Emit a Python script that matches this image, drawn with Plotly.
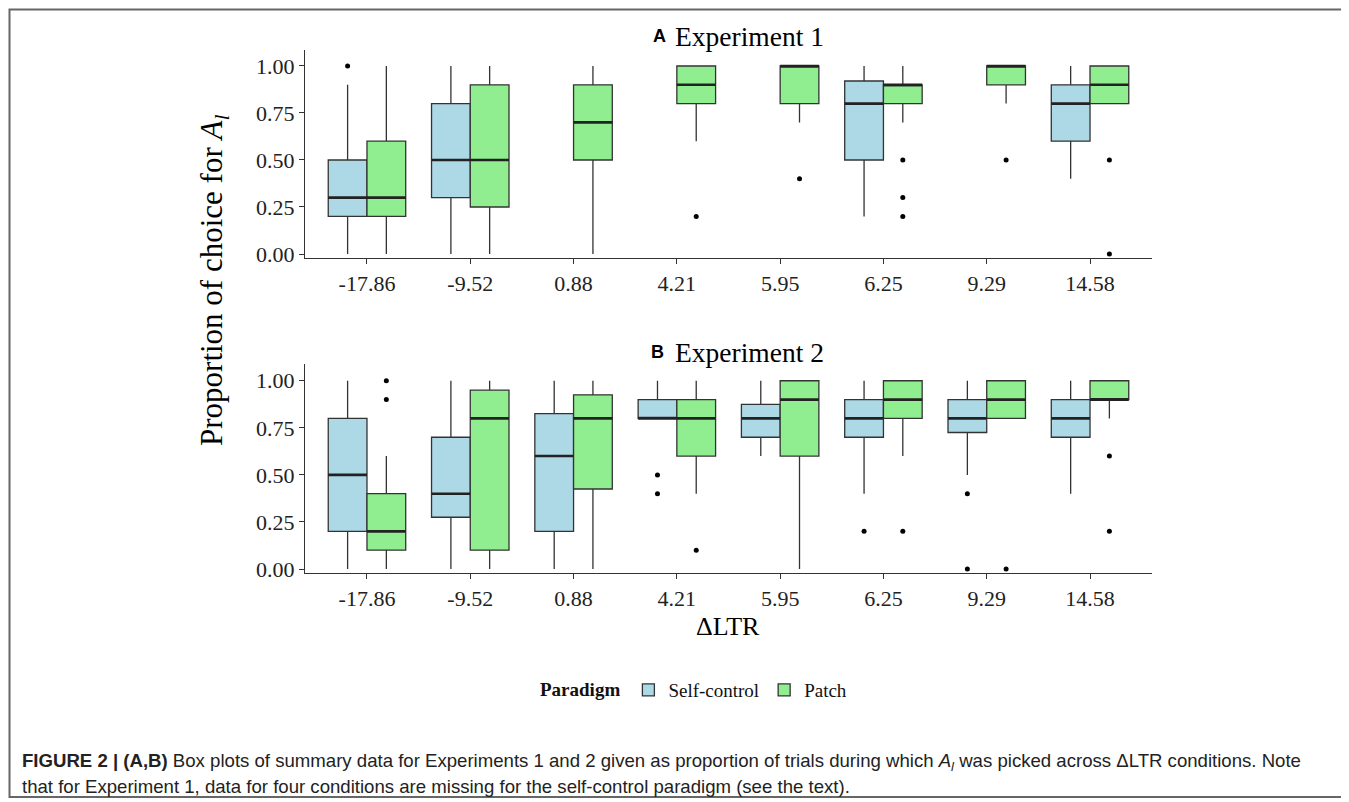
import plotly.graph_objects as go

categories = ["-17.86", "-9.52", "0.88", "4.21", "5.95", "6.25", "9.29", "14.58"]

# Experiment 1 - Self-control (None = missing condition)
e1_sc_q1 = [0.2, 0.3, None, None, None, 0.5, None, 0.6]
e1_sc_med = [0.3, 0.5, None, None, None, 0.8, None, 0.8]
e1_sc_q3 = [0.5, 0.8, None, None, None, 0.92, None, 0.9]
e1_sc_lo = [0.0, 0.0, None, None, None, 0.2, None, 0.4]
e1_sc_hi = [0.9, 1.0, None, None, None, 1.0, None, 1.0]
e1_sc_out = [[1.0], [], [], [], [], [], [], []]

# Experiment 1 - Patch
e1_pa_q1 = [0.2, 0.25, 0.5, 0.8, 0.8, 0.8, 0.9, 0.8]
e1_pa_med = [0.3, 0.5, 0.7, 0.9, 1.0, 0.9, 1.0, 0.9]
e1_pa_q3 = [0.6, 0.9, 0.9, 1.0, 1.0, 0.9, 1.0, 1.0]
e1_pa_lo = [0.0, 0.0, 0.0, 0.6, 0.7, 0.7, 0.8, 0.8]
e1_pa_hi = [1.0, 1.0, 1.0, 1.0, 1.0, 1.0, 1.0, 1.0]
e1_pa_out = [[], [], [], [0.2], [0.4], [0.5, 0.3, 0.2], [0.5], [0.5, 0.0]]

# Experiment 2 - Self-control
e2_sc_q1 = [0.2, 0.275, 0.2, 0.8, 0.7, 0.7, 0.725, 0.7]
e2_sc_med = [0.5, 0.4, 0.6, 0.8, 0.8, 0.8, 0.8, 0.8]
e2_sc_q3 = [0.8, 0.7, 0.825, 0.9, 0.875, 0.9, 0.9, 0.9]
e2_sc_lo = [0.0, 0.0, 0.0, 0.8, 0.6, 0.4, 0.5, 0.4]
e2_sc_hi = [1.0, 1.0, 1.0, 1.0, 1.0, 1.0, 1.0, 1.0]
e2_sc_out = [[], [], [], [0.5, 0.4], [], [0.2], [0.4, 0.0], []]

# Experiment 2 - Patch
e2_pa_q1 = [0.1, 0.1, 0.425, 0.6, 0.6, 0.8, 0.8, 0.9]
e2_pa_med = [0.2, 0.8, 0.8, 0.8, 0.9, 0.9, 0.9, 0.9]
e2_pa_q3 = [0.4, 0.95, 0.925, 0.9, 1.0, 1.0, 1.0, 1.0]
e2_pa_lo = [0.0, 0.0, 0.0, 0.4, 0.0, 0.6, 0.8, 0.8]
e2_pa_hi = [0.6, 1.0, 1.0, 1.0, 1.0, 1.0, 1.0, 1.0]
e2_pa_out = [[1.0, 0.9], [], [], [0.1], [], [0.2], [0.0], [0.6, 0.2]]

y_ticks = [0.0, 0.25, 0.5, 0.75, 1.0]
y_ticktext = ["0.00", "0.25", "0.50", "0.75", "1.00"]

paradigms = ["Self-control", "Patch"]
fills = {"Self-control": "#ADD8E6", "Patch": "#90EE90"}
dodge = {"Self-control": -0.1875, "Patch": 0.1875}
BOX_W = 0.375
LINE = "#333333"
SERIF = "Liberation Serif, Times New Roman, serif"
SANS = "Liberation Sans, Arial, sans-serif"

# page has an 8px body margin; work in page pixels and shift
OFF = 8
W, H = 1349 - OFF, 802 - OFF
PL, PR, PT, PB = 305, 1152, 50, 573   # plot area in page pixels
ML, MR, MT, MB = PL - OFF, W - (PR - OFF), PT - OFF, H - (PB - OFF)
PW, PH = PR - PL, PB - PT


def px(x):
    return (x - PL) / PW


def py(y):
    return (PB - y) / PH


fig = go.Figure()

experiments = [
    ("1", {"Self-control": (e1_sc_q1, e1_sc_med, e1_sc_q3, e1_sc_lo, e1_sc_hi, e1_sc_out),
           "Patch": (e1_pa_q1, e1_pa_med, e1_pa_q3, e1_pa_lo, e1_pa_hi, e1_pa_out)}),
    ("2", {"Self-control": (e2_sc_q1, e2_sc_med, e2_sc_q3, e2_sc_lo, e2_sc_hi, e2_sc_out),
           "Patch": (e2_pa_q1, e2_pa_med, e2_pa_q3, e2_pa_lo, e2_pa_hi, e2_pa_out)}),
]

for ei, (axn, data) in enumerate(experiments):
    xa = "x" if axn == "1" else "x2"
    ya = "y" if axn == "1" else "y2"
    for par in paradigms:
        q1, med, q3, lo, hi, outs = data[par]
        idx = [i for i in range(len(categories)) if q1[i] is not None]
        xs = [i + 1 + dodge[par] for i in idx]
        fig.add_trace(go.Box(
            x=xs,
            q1=[q1[i] for i in idx], median=[med[i] for i in idx], q3=[q3[i] for i in idx],
            lowerfence=[lo[i] for i in idx], upperfence=[hi[i] for i in idx],
            width=BOX_W, whiskerwidth=0, boxpoints=False,
            fillcolor=fills[par], line=dict(color=LINE, width=1.3),
            name=par, legendgroup=par, showlegend=(ei == 0),
            xaxis=xa, yaxis=ya, hoverinfo="skip",
        ))
        # thicker median lines (ggplot style)
        mx, my = [], []
        for i in idx:
            c = i + 1 + dodge[par]
            mx += [c - BOX_W / 2, c + BOX_W / 2, None]
            my += [med[i], med[i], None]
        fig.add_trace(go.Scatter(x=mx, y=my, mode="lines", line=dict(color="#222222", width=2.6),
                                 showlegend=False, xaxis=xa, yaxis=ya, hoverinfo="skip"))
        ox, oy = [], []
        for i, vals in enumerate(outs):
            for v in vals:
                ox.append(i + 1 + dodge[par])
                oy.append(v)
        if ox:
            fig.add_trace(go.Scatter(x=ox, y=oy, mode="markers",
                                     marker=dict(color="black", size=5),
                                     showlegend=False, xaxis=xa, yaxis=ya, hoverinfo="skip"))

axis_common = dict(showline=True, linecolor=LINE, linewidth=1.2, ticks="outside", ticklen=5,
                   tickcolor=LINE, tickwidth=1.2, showgrid=False, zeroline=False,
                   tickfont=dict(family=SERIF, size=22, color="#222222"))

xcommon = dict(axis_common, range=[0.4, 8.6], tickmode="array",
               tickvals=list(range(1, len(categories) + 1)), ticktext=categories)
ycommon = dict(axis_common, tickmode="array", tickvals=y_ticks, ticktext=y_ticktext)

fig.update_layout(
    width=W, height=H,
    margin=dict(l=ML, r=MR, t=MT, b=MB, autoexpand=False),
    paper_bgcolor="white", plot_bgcolor="white",
    boxmode="overlay",
    xaxis=dict(xcommon, domain=[0, 1], anchor="y"),
    yaxis=dict(ycommon, domain=[py(258), 1.0], range=[-0.0213, 1.085], anchor="x"),
    xaxis2=dict(xcommon, domain=[0, 1], anchor="y2"),
    yaxis2=dict(ycommon, domain=[0, py(364)], range=[-0.0212, 1.089], anchor="x2"),
    legend=dict(orientation="h", x=px(695), xanchor="center", y=py(690), yanchor="middle",
                font=dict(family=SERIF, size=19, color="#111111"),
                title=dict(text="<b>Paradigm</b>", font=dict(family=SERIF, size=19, color="#111111")),
                itemwidth=30, tracegroupgap=0),
    showlegend=True,
)

annotations = [
    dict(text="<b>A</b>", x=px(659), y=py(36), font=dict(family=SANS, size=18, color="black")),
    dict(text="Experiment 1", x=px(749), y=py(36), font=dict(family=SERIF, size=27.5, color="black")),
    dict(text="<b>B</b>", x=px(657), y=py(352), font=dict(family=SANS, size=18, color="black")),
    dict(text="Experiment 2", x=px(749), y=py(352), font=dict(family=SERIF, size=27.5, color="black")),
    dict(text="Proportion of choice for <i>A<sub>l</sub></i>", x=px(214), y=py(281), textangle=-90,
         font=dict(family=SERIF, size=31, color="black")),
    dict(text="ΔLTR", x=px(728), y=py(626), font=dict(family=SERIF, size=26, color="black")),
    dict(text="<b>FIGURE 2 | (A,B)</b> Box plots of summary data for Experiments 1 and 2 given as proportion of trials "
              "during which <i>A<sub>l</sub></i> was picked across ΔLTR conditions. Note",
         x=px(20), y=py(762), xanchor="left", font=dict(family=SANS, size=18.6, color="#222222")),
    dict(text="that for Experiment 1, data for four conditions are missing for the self-control paradigm (see the text).",
         x=px(20), y=py(786), xanchor="left", font=dict(family=SANS, size=18.6, color="#222222")),
]
for a in annotations:
    a.setdefault("xanchor", "center")
    a.update(xref="paper", yref="paper", yanchor="middle", showarrow=False)
fig.update_layout(annotations=annotations)

fig.add_shape(type="rect", xref="paper", yref="paper", x0=px(9.5), x1=px(1344), y0=py(9.5), y1=py(797),
              line=dict(color="#666666", width=2), fillcolor="rgba(0,0,0,0)", layer="below")

fig.write_html("out.html")
